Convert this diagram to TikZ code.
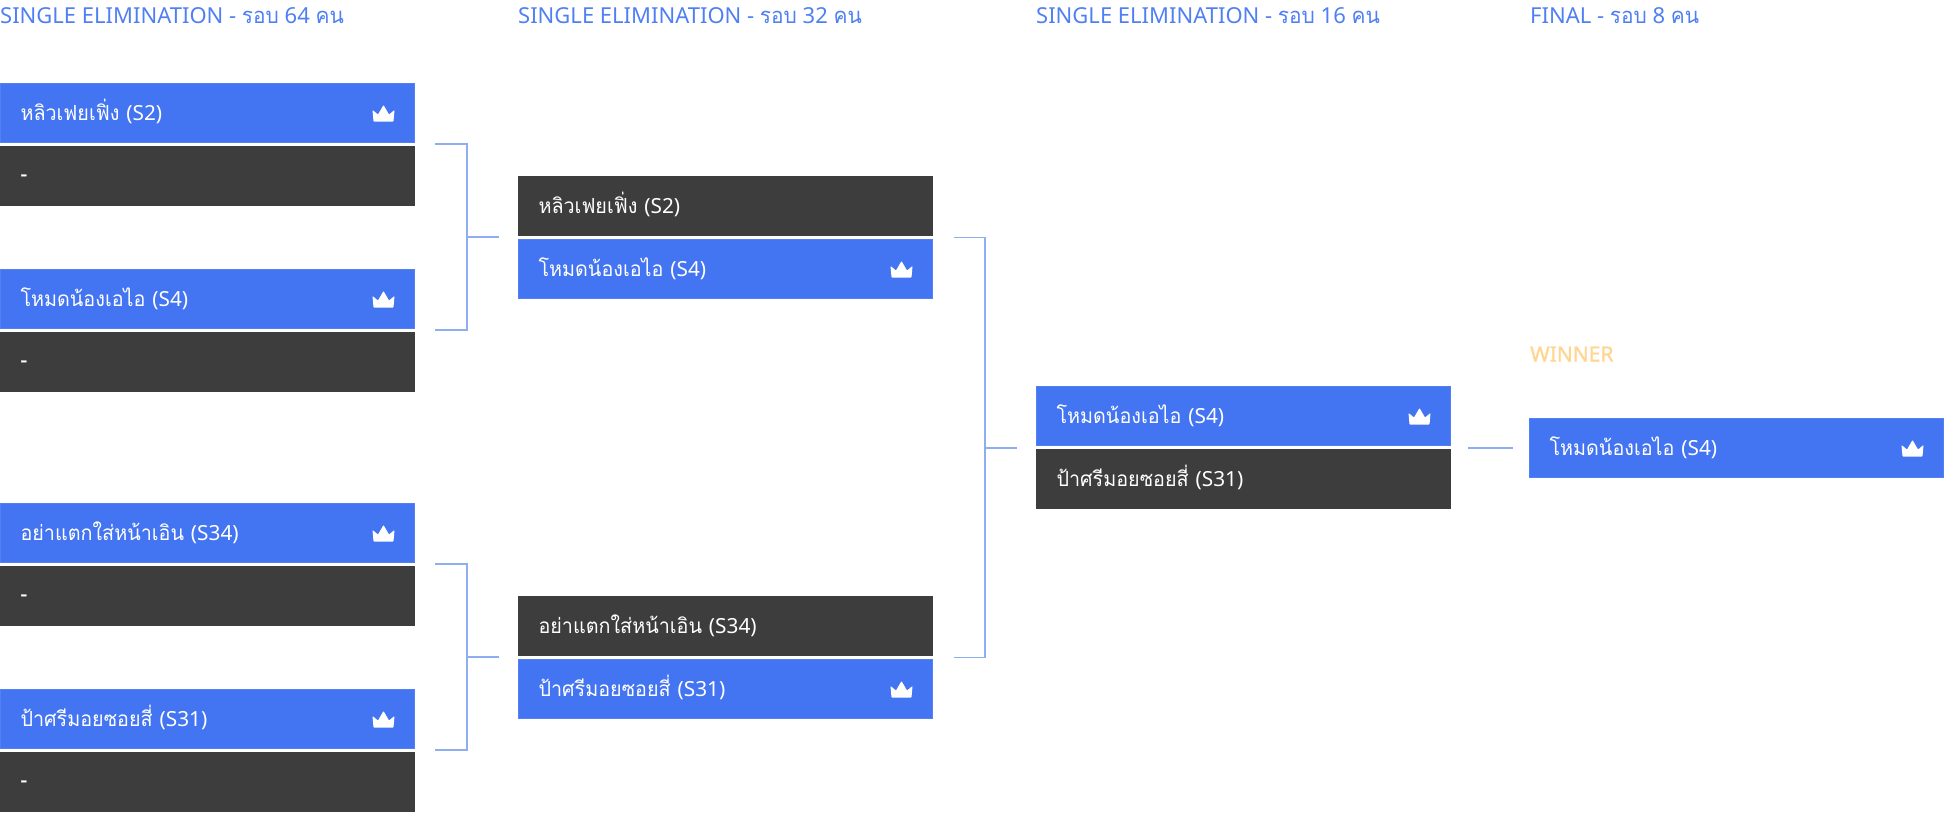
\documentclass[tikz,border=0pt]{standalone}
\usepackage{fontspec}
\setmainfont{Noto Sans}
\newfontfamily\thaifont[Script=Thai,FakeStretch=0.95]{Loma}
\newfontfamily\heavyfont[FakeBold=1.2]{Noto Sans}
\newcommand{\tha}[1]{{\thaifont #1}}
\definecolor{winblue}{HTML}{4374F1}
\definecolor{winedge}{HTML}{5580F5}
\definecolor{darkbar}{HTML}{3D3D3D}
\definecolor{linkcol}{HTML}{8FAEF2}
\definecolor{headcol}{HTML}{4F7FF3}
\definecolor{wincol}{HTML}{FFD691}
\tikzset{
  x=1pt,y=-1pt,
  bar/.style={anchor=north west,minimum width=414pt,minimum height=59pt,inner xsep=19.5pt,inner ysep=0pt,text width=374pt,text height=20pt,text depth=5pt,align=left,text=white,font=\fontsize{20.8}{24}\selectfont},
  winbar/.style={bar,fill=winblue,draw=winedge,line width=1pt},
  losebar/.style={bar,fill=darkbar,draw=darkbar,line width=1pt},
  heading/.style={anchor=west,inner sep=0pt,text=headcol,font=\fontsize{22}{26}\selectfont},
  link/.style={draw=linkcol,line width=1.2pt},
  crown/.pic={\fill[white,rounded corners=0.6pt] (-10,8.5) -- (-11,-3) -- (-5.5,1.5) -- (0,-8) -- (5.5,1.5) -- (11,-3) -- (10,8.5) -- cycle;}
}
\newcommand{\crownon}[1]{\pic at ([xshift=-31.5pt]#1.east) {crown};}
\newcommand{\nil}{\raisebox{2.5pt}{\heavyfont -}}
\begin{document}
\begin{tikzpicture}
\useasboundingbox (0,0) rectangle (1944,812);
% headings
\node[heading] (h1) at (0,16) {SINGLE ELIMINATION - \tha{รอบ} 64 \tha{คน}};
\node[heading] (h2) at (518,16) {SINGLE ELIMINATION - \tha{รอบ} 32 \tha{คน}};
\node[heading] (h3) at (1036,16) {SINGLE ELIMINATION - \tha{รอบ} 16 \tha{คน}};
\node[heading] (h4) at (1530,16) {FINAL - \tha{รอบ} 8 \tha{คน}};
\node[heading,text=wincol,font=\fontsize{21}{24}\heavyfont] (hw) at (1530,354) {WINNER};
% round 1
\node[winbar] (a1) at (0,83) {\tha{หลิวเฟยเฟิ่ง} (S2)};
\node[losebar] (a2) at (0,146) {\nil};
\node[winbar] (a3) at (0,269) {\tha{โหมดน้องเอไอ} (S4)};
\node[losebar] (a4) at (0,332) {\nil};
\node[winbar] (a5) at (0,503) {\tha{อย่าแตกใส่หน้าเอิน} (S34)};
\node[losebar] (a6) at (0,566) {\nil};
\node[winbar] (a7) at (0,689) {\tha{ป้าศรีมอยซอยสี่} (S31)};
\node[losebar] (a8) at (0,752) {\nil};
% round 2
\node[losebar] (b1) at (518,176) {\tha{หลิวเฟยเฟิ่ง} (S2)};
\node[winbar] (b2) at (518,239) {\tha{โหมดน้องเอไอ} (S4)};
\node[losebar] (b3) at (518,596) {\tha{อย่าแตกใส่หน้าเอิน} (S34)};
\node[winbar] (b4) at (518,659) {\tha{ป้าศรีมอยซอยสี่} (S31)};
% round 3
\node[winbar] (c1) at (1036,386) {\tha{โหมดน้องเอไอ} (S4)};
\node[losebar] (c2) at (1036,449) {\tha{ป้าศรีมอยซอยสี่} (S31)};
% final
\node[winbar] (d1) at (1529,418) {\tha{โหมดน้องเอไอ} (S4)};
% crowns
\crownon{a1}\crownon{a3}\crownon{a5}\crownon{a7}\crownon{b2}\crownon{b4}\crownon{c1}\crownon{d1}
% connector ends
\coordinate (p1) at (435,144);\coordinate (p2) at (435,330);\coordinate (q1) at (467,237);\coordinate (r1) at (498.5,237);
\coordinate (p3) at (435,564);\coordinate (p4) at (435,750);\coordinate (q2) at (467,657);\coordinate (r2) at (498.5,657);
\coordinate (p5) at (953.5,237.5);\coordinate (p6) at (953.5,657.5);\coordinate (q3) at (985,448);\coordinate (r3) at (1017,448);
\coordinate (s1) at (1468,448);\coordinate (s2) at (1513,448);
\draw[link] (p1) -| (q1) |- (p2);
\draw[link] (q1) -- (r1);
\draw[link] (p3) -| (q2) |- (p4);
\draw[link] (q2) -- (r2);
\draw[link] (p5) -| (q3) |- (p6);
\draw[link] (q3) -- (r3);
\draw[link] (s1) -- (s2);
\end{tikzpicture}
\end{document}
